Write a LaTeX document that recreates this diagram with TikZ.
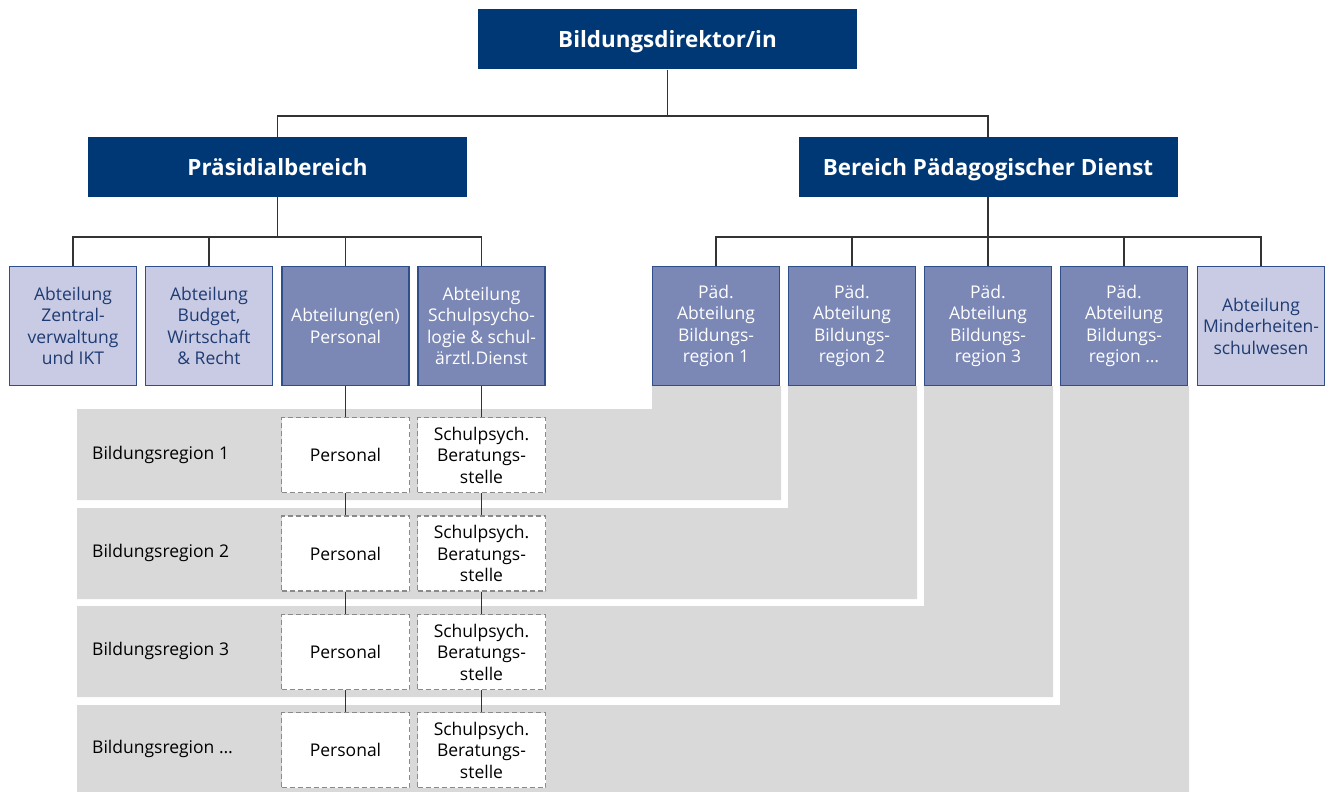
\documentclass[tikz,border=0pt]{standalone}
\usepackage{fontspec}
\setmainfont{Open Sans}
\definecolor{dblue}{HTML}{003876}
\definecolor{mblue}{HTML}{7B87B5}
\definecolor{lblue}{HTML}{C8CBE3}
\definecolor{bblue}{HTML}{2F4F8A}
\definecolor{tblue}{HTML}{1F3B73}
\definecolor{greyband}{HTML}{D9D9D9}
\definecolor{dashgrey}{HTML}{8A8A8A}
\definecolor{linec}{HTML}{333333}
\tikzset{
  topbox/.style={fill=dblue, text=white, inner sep=0pt, minimum width=379, minimum height=60,
    text height=20pt, text depth=4pt, font=\fontsize{22.4}{26}\selectfont\bfseries},
  midbox/.style={fill=mblue, draw=bblue, line width=1.4pt, text=white, inner sep=0pt,
    minimum width=127, minimum height=119, align=center, font=\fontsize{17.5}{21.5}\selectfont},
  lightbox/.style={midbox, fill=lblue, text=tblue},
  dbox/.style={fill=white, draw=dashgrey, dash pattern=on 5pt off 3pt, line width=1.2pt, inner sep=0pt,
    minimum width=128, minimum height=75, align=center, font=\fontsize{17.5}{21.5}\selectfont},
  rowlabel/.style={anchor=west, inner sep=0pt, font=\fontsize{17.5}{21}\selectfont},
  conn/.style={draw=linec, line width=1.2pt},
}
\begin{document}
\begin{tikzpicture}[x=1pt,y=-1pt]
\useasboundingbox (0,0) rectangle (1330,792);
% grey bands
\fill[greyband] (77,409) -- (652,409) -- (652,386) -- (781,386) -- (781,500) -- (77,500) -- cycle;
\fill[greyband] (77,508) -- (788,508) -- (788,386) -- (917,386) -- (917,599) -- (77,599) -- cycle;
\fill[greyband] (77,606) -- (924,606) -- (924,386) -- (1053,386) -- (1053,697) -- (77,697) -- cycle;
\fill[greyband] (77,705) -- (1060,705) -- (1060,386) -- (1189,386) -- (1189,792) -- (77,792) -- cycle;

% top levels
\node[topbox] (dir) at (667.5,39.5) {Bildungsdirektor/in};
\node[topbox] (pr) at (277.5,167) {Präsidialbereich};
\node[topbox] (pd) at (988,167) {Bereich Pädagogischer Dienst};

% second row left
\node[lightbox] (a1) at (73,326) {Abteilung\\Zentral-\\verwaltung\\und IKT};
\node[lightbox] (a2) at (209,326) {Abteilung\\Budget,\\Wirtschaft\\\& Recht};
\node[midbox] (a3) at (345.5,326) {Abteilung(en)\\Personal};
\node[midbox] (a4) at (481.5,326) {Abteilung\\Schulpsycho-\\logie \& schul-\\ärztl.Dienst};

% second row right
\node[midbox] (p1) at (716,326) {Päd.\\Abteilung\\Bildungs-\\region 1};
\node[midbox] (p2) at (852,326) {Päd.\\Abteilung\\Bildungs-\\region 2};
\node[midbox] (p3) at (988,326) {Päd.\\Abteilung\\Bildungs-\\region 3};
\node[midbox] (p4) at (1124,326) {Päd.\\Abteilung\\Bildungs-\\region \dots};
\node[lightbox] (m) at (1261,326) {Abteilung\\Minderheiten-\\schulwesen};

% rows
\node[rowlabel] (l1) at (92,455) {Bildungsregion 1};
\node[rowlabel] (l2) at (92,553) {Bildungsregion 2};
\node[rowlabel] (l3) at (92,651) {Bildungsregion 3};
\node[rowlabel] (l4) at (92,749) {Bildungsregion \dots};

\node[dbox] (r1p) at (345.5,455) {Personal};
\node[dbox] (r1s) at (481.5,455) {Schulpsych.\\Beratungs-\\stelle};
\node[dbox] (r2p) at (345.5,553.5) {Personal};
\node[dbox] (r2s) at (481.5,553.5) {Schulpsych.\\Beratungs-\\stelle};
\node[dbox] (r3p) at (345.5,652) {Personal};
\node[dbox] (r3s) at (481.5,652) {Schulpsych.\\Beratungs-\\stelle};
\node[dbox] (r4p) at (345.5,750) {Personal};
\node[dbox] (r4s) at (481.5,750) {Schulpsych.\\Beratungs-\\stelle};

% connectors
\coordinate (j0) at (667.5,116);
\coordinate (jl) at (277.5,237);
\coordinate (jr) at (988,237);
\draw[conn] (dir.south) -- (j0);
\draw[conn] (pr.north) |- (j0) -| (pd.north);
\draw[conn] (pr.south) -- (jl);
\draw[conn] (a1.north) |- (jl) -| (a4.north);
\draw[conn] (a2.north) -- (a2.north |- jl);
\draw[conn] (a3.north) -- (a3.north |- jl);
\draw[conn] (pd.south) -- (jr);
\draw[conn] (p1.north) |- (jr) -| (m.north);
\draw[conn] (p2.north) -- (p2.north |- jr);
\draw[conn] (p3.north) -- (jr);
\draw[conn] (p4.north) -- (p4.north |- jr);

\draw[conn] (a3.south) -- (r1p.north);
\draw[conn] (a4.south) -- (r1s.north);
\draw[conn] (r1p.south) -- (r2p.north);
\draw[conn] (r1s.south) -- (r2s.north);
\draw[conn] (r2p.south) -- (r3p.north);
\draw[conn] (r2s.south) -- (r3s.north);
\draw[conn] (r3p.south) -- (r4p.north);
\draw[conn] (r3s.south) -- (r4s.north);
\end{tikzpicture}
\end{document}
